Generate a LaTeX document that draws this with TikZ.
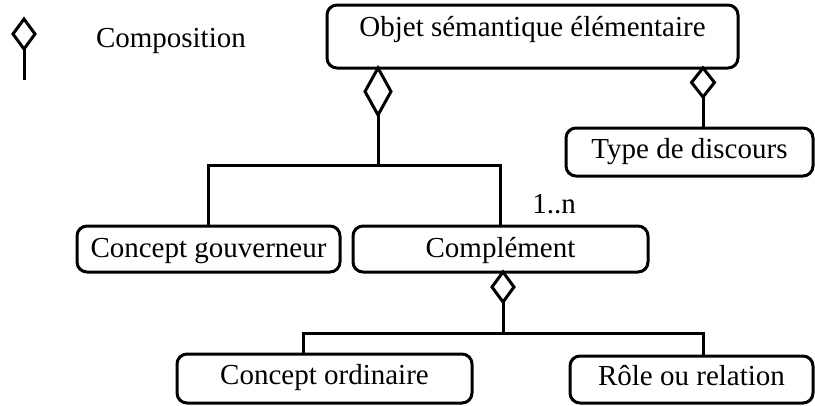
\documentclass[tikz,border=0pt]{standalone}
\usepackage{fontspec}
\setmainfont{Liberation Serif}
\usetikzlibrary{shapes.geometric}
\begin{document}
\begin{tikzpicture}[
  x=1pt, y=-1pt,
  line width=3pt,
  font=\fontsize{29pt}{34pt}\selectfont,
  every node/.style={outer sep=0pt},
  classbox/.style={draw, rounded corners=10pt, inner xsep=0pt, inner ysep=0pt, anchor=base},
  compdiamond/.style={draw, fill=white, shape=diamond, inner sep=0pt, anchor=north},
  plain/.style={inner sep=0pt}
]
\useasboundingbox (0,0) rectangle (815,405);

% legend
\node[compdiamond, minimum width=22pt, minimum height=30pt] (dL) at (24,19) {};
\coordinate (lend) at (24,80);
\draw (dL.south) -- (lend);
\node[plain, anchor=base west] (legtxt) at (96,47) {Composition};

% classes
\node[classbox, minimum width=411pt, text height=31pt, text depth=32pt] (obj) at (532.5,36) {Objet sémantique élémentaire};
\node[classbox, minimum width=247pt, text height=30pt, text depth=18pt] (type) at (689.5,158) {Type de discours};
\node[classbox, minimum width=263pt, text height=31pt, text depth=15pt] (gouv) at (208.5,257) {Concept gouverneur};
\node[classbox, minimum width=295pt, text height=31pt, text depth=15pt] (compl) at (500.5,257) {Complément};
\node[classbox, minimum width=295pt, text height=30pt, text depth=19pt] (ord) at (324.5,384) {Concept ordinaire};
\node[classbox, minimum width=243pt, text height=29pt, text depth=18pt] (role) at (691.5,385) {Rôle ou relation};

% composition diamonds
\node[compdiamond, minimum width=26pt, minimum height=47pt] (dA) at (378,68) {};
\node[compdiamond, minimum width=23pt, minimum height=29pt] (dB) at (703,68) {};
\node[compdiamond, minimum width=22pt, minimum height=30pt] (dC) at (503,272) {};

% junctions
\coordinate (jA) at (378,165);
\coordinate (jC) at (503,333);

% connectors
\draw (dA.south) -- (jA);
\draw (gouv.north) |- (jA) -| (compl.north);
\draw (dB.south) -- (dB.south |- type.north);
\draw (dC.south) -- (jC);
\draw ([xshift=-21.5pt]ord.north) |- (jC) -| ([xshift=11.5pt]role.north);

% multiplicity
\node[plain, anchor=base] (mult) at (554,213) {1..n};
\end{tikzpicture}
\end{document}
